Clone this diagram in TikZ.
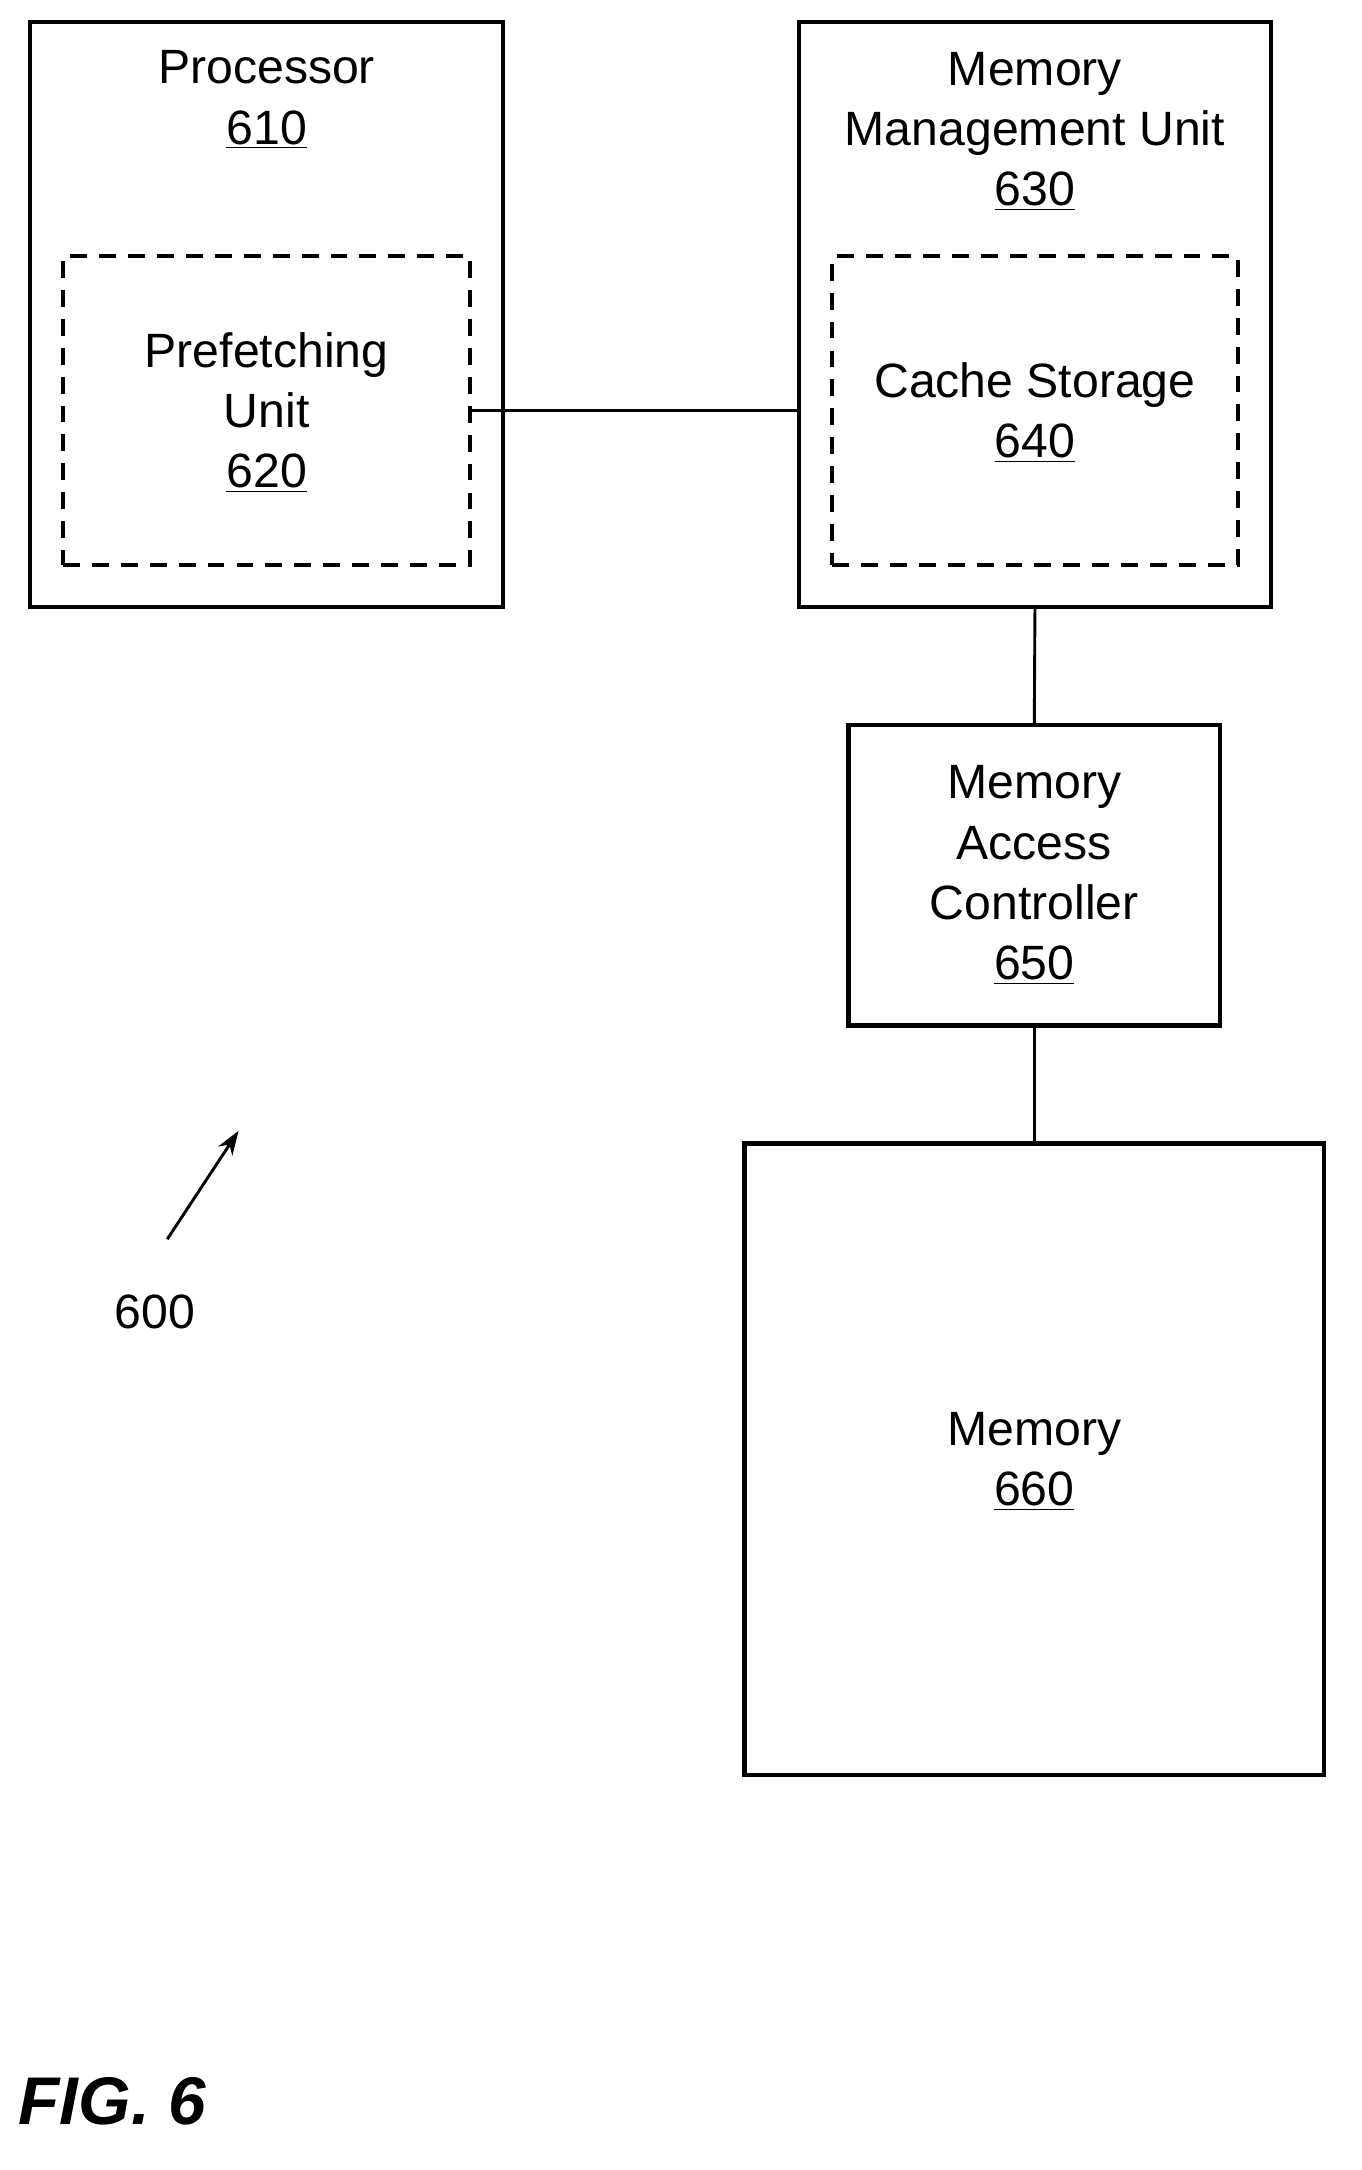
\documentclass[tikz,border=0pt]{standalone}
\usepackage{fontspec}
\setmainfont{Liberation Sans}
\usetikzlibrary{arrows.meta}
\begin{document}
\begin{tikzpicture}[x=0.02cm,y=-0.02cm,>={Stealth[length=10pt,width=7pt]},font=\fontsize{20}{25}\selectfont]

	\tikzset{
		block/.style={draw,line width=1.8pt,inner sep=0pt,outer sep=0pt},
		sub/.style={draw,line width=1.6pt,dash pattern=on 7pt off 5pt,inner sep=0pt,outer sep=0pt},
		lbl/.style={align=center,inner sep=0pt},
		link/.style={line width=1.2pt},
	}

	\useasboundingbox (0,0) rectangle (993,1583);

	% Processor with prefetching unit
	\node[block,minimum width=6.9cm,minimum height=8.54cm] (proc) at (194.5,229.5) {};
	\node[sub,minimum width=5.94cm,minimum height=4.5cm] (pref) at (194.5,299.5) {};
	\node[lbl] (proclbl) at (194.5,73) {Processor\\\underline{610}};
	\node[lbl] (preflbl) at (194.5,301) {Prefetching\\Unit\\\underline{620}};

	% Memory management unit with cache storage
	\node[block,minimum width=6.88cm,minimum height=8.54cm] (mmu) at (755,229.5) {};
	\node[sub,minimum width=5.92cm,minimum height=4.5cm] (cache) at (755,299.5) {};
	\node[lbl] (mmulbl) at (755,96) {Memory\\Management Unit\\\underline{630}};
	\node[lbl] (cachelbl) at (755,301) {Cache Storage\\\underline{640}};

	% Memory access controller and memory
	\node[block,minimum width=5.42cm,minimum height=4.38cm,lbl] (mac) at (754.5,638.5)
		{Memory\\Access\\Controller\\\underline{650}};
	\node[block,minimum width=8.46cm,minimum height=9.22cm] (mem) at (754.5,1064.5) {};
	\node[lbl] (memlbl) at (754.5,1066) {Memory\\\underline{660}};

	% Connections
	\draw[link] (pref.east) -- (pref.east -| mmu.west);
	\draw[link] (mmu.south) -- (mac.north);
	\draw[link] (mac.south) -- (mem.north);

	% Reference numeral
	\coordinate (tail) at (122,904);
	\coordinate (tip) at (174,825);
	\draw[->,link] (tail) -- (tip);
	\node[lbl] (ref) at (113,957) {600};

	\node[lbl,font=\fontsize{28}{30}\selectfont\bfseries\itshape] (fig) at (82,1533) {FIG. 6};

\end{tikzpicture}
\end{document}
